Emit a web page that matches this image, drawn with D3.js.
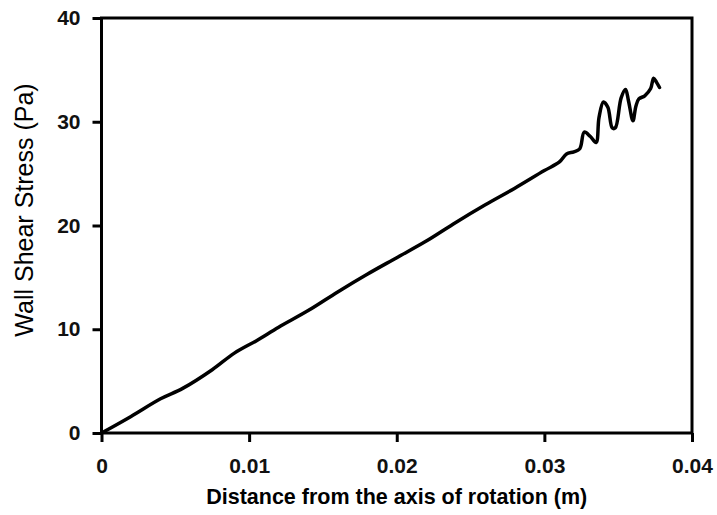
<!DOCTYPE html>
<html>
<head>
<meta charset="utf-8">
<style>
    body { margin: 0; background: #fff; }
    .tick text { font: bold 21px "Liberation Sans", Arial, sans-serif; fill: #111; }
    .axis path, .axis line { stroke: #000; stroke-width: 3px; }
    .frame { fill: none; stroke: #000; stroke-width: 3px; }
    .line { fill: none; stroke: #000; stroke-width: 3.5px; stroke-linejoin: round; stroke-linecap: round; }
</style>
</head>
<body>
<div id="chart"></div>
<script src="https://cdn.jsdelivr.net/npm/d3@7"></script>
<script>
    // distance from axis (m) and wall shear stress (Pa)
    const distance = [0, 0.0020, 0.0040, 0.0055, 0.0075, 0.0090, 0.0105, 0.0120,
        0.0140, 0.0160, 0.0180, 0.0200, 0.0220, 0.0240, 0.0260, 0.0280, 0.0300,
        0.0310, 0.0315, 0.0320, 0.0324, 0.0327, 0.0331, 0.0335, 0.0337, 0.0340,
        0.0343, 0.0346, 0.0348, 0.0352, 0.0355, 0.0357, 0.0360, 0.0362, 0.0364,
        0.0368, 0.0372, 0.0374, 0.0376, 0.0378];
    const stress = [0, 1.6, 3.3, 4.3, 6.1, 7.7, 8.9, 10.2,
        11.8, 13.6, 15.3, 16.9, 18.5, 20.3, 22.0, 23.6, 25.3,
        26.1, 26.9, 27.1, 27.4, 29.0, 28.6, 28.0, 30.4, 31.9,
        31.4, 29.4, 29.4, 32.3, 33.1, 32.0, 30.1, 31.5, 32.2,
        32.5, 33.2, 34.2, 33.8, 33.3];

    const xTicks = [0, 0.01, 0.02, 0.03, 0.04];
    const yTicks = [0, 10, 20, 30, 40];
    const xTitle = "Distance from the axis of rotation (m)";
    const yTitle = "Wall Shear Stress (Pa)";

    const W = 717, H = 515;
    const margin = { top: 18, right: 25, bottom: 82, left: 101.5 };
    const width = W - margin.left - margin.right;
    const height = H - margin.top - margin.bottom;

    const svg = d3.select("#chart").append("svg")
        .attr("width", W).attr("height", H);

    const g = svg.append("g")
        .attr("transform", "translate(" + margin.left + "," + margin.top + ")");

    const x = d3.scaleLinear().domain([0, 0.04]).range([0, width]);
    const y = d3.scaleLinear().domain([0, 40]).range([height, 0]);

    g.append("g")
        .attr("class", "axis")
        .attr("transform", "translate(0," + height + ")")
        .call(d3.axisBottom(x).tickValues(xTicks).tickSize(9).tickPadding(16)
            .tickFormat(d => d === 0 ? "0" : d3.format(".2f")(d)));

    g.append("g")
        .attr("class", "axis")
        .call(d3.axisLeft(y).tickValues(yTicks).tickSize(9).tickPadding(12));

    g.selectAll(".domain").remove();

    g.append("rect")
        .attr("class", "frame")
        .attr("width", width).attr("height", height);

    const pts = distance.map((d, i) => [d, stress[i]]);
    const line = d3.line()
        .curve(d3.curveCatmullRom.alpha(0.5))
        .x(d => x(d[0]))
        .y(d => y(d[1]));

    g.append("path")
        .datum(pts)
        .attr("class", "line")
        .attr("d", line);

    svg.append("text")
        .attr("x", margin.left + width / 2)
        .attr("y", 504)
        .attr("text-anchor", "middle")
        .style("font", "bold 21.5px 'Liberation Sans', Arial, sans-serif")
        .text(xTitle);

    svg.append("text")
        .attr("transform", "translate(33,210) rotate(-90)")
        .attr("text-anchor", "middle")
        .style("font", "25px 'Liberation Sans', Arial, sans-serif")
        .text(yTitle);
</script>
</body>
</html>
